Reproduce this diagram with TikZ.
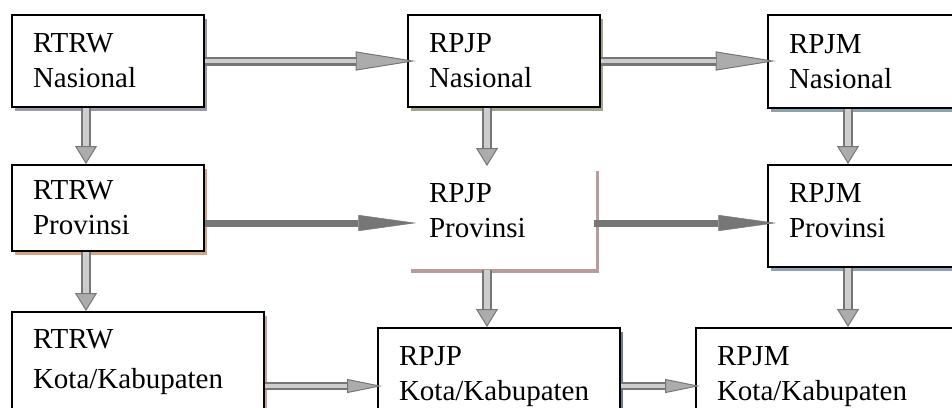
\documentclass[tikz,border=0pt]{standalone}
\usepackage{fontspec}
\setmainfont{Liberation Serif}
\usetikzlibrary{arrows.meta,calc,shadows}
\definecolor{shTN}{RGB}{156,152,170}
\definecolor{shPN}{RGB}{164,164,140}
\definecolor{shMN}{RGB}{140,162,172}
\definecolor{shTP}{RGB}{210,164,132}
\definecolor{shPP}{RGB}{184,156,156}
\definecolor{shMP}{RGB}{144,160,184}
\definecolor{shTK}{RGB}{200,160,160}
\definecolor{shPK}{RGB}{108,124,140}
\definecolor{pipe}{RGB}{118,118,118}
\definecolor{pipein}{RGB}{205,205,205}
\definecolor{pipetip}{RGB}{172,172,172}
\tikzset{
  plan/.style={draw=black,line width=1.5pt,fill=white,anchor=north west,align=left,
    inner xsep=15.75pt,inner ysep=0pt,font=\fontsize{21.75pt}{26.25pt}\selectfont,
    general shadow={fill=#1,shadow xshift=2.25pt,shadow yshift=-3pt}},
  hh/.style={line width=6.75pt,draw=pipe,shorten >=-6.5pt,
    -{Triangle[length=45pt,width=14.25pt,line width=0.75pt,fill=pipetip]},
    postaction={draw=pipein,line width=3.5pt,arrows=-,shorten >=38.5pt}},
  vh/.style={line width=7.5pt,draw=pipe,
    -{Triangle[length=13.5pt,width=16.5pt,line width=0.75pt,fill=pipetip]},
    postaction={draw=pipein,line width=4pt,arrows=-,shorten >=13.5pt}},
  kh/.style={line width=6pt,draw=pipe,shorten >=-3.75pt,
    -{Triangle[length=26.25pt,width=10.5pt,line width=0.75pt,fill=pipetip]},
    postaction={draw=pipein,line width=3pt,arrows=-,shorten >=22.5pt}},
  sh/.style={line width=5.25pt,draw=pipe,shorten >=-7pt,
    -{Triangle[length=43.5pt,width=12pt,line width=0.4pt]}},
}

\begin{document}
\begin{tikzpicture}[x=0.75pt,y=-0.75pt]
\useasboundingbox (0,0) rectangle (952,407);
\clip (0,0) rectangle (952,407);
% boxes
\node[plan=shTN,text width=112.5pt,minimum height=69pt] (tn) at (11,14) {RTRW\\Nasional};
\node[plan=shPN,text width=112.5pt,minimum height=69pt] (pn) at (407,14) {RPJP\\Nasional};
\node[plan=shMN,text width=118.5pt,minimum height=69.75pt] (mn) at (767,14) {RPJM\\Nasional};
\node[plan=shTP,text width=112.5pt,minimum height=64.5pt] (tp) at (11,164) {RTRW\\Provinsi};
\node[plan=shPP,draw=none,text width=109.5pt,minimum height=76.5pt] (pp) at (407,166)
  {RPJP\\Provinsi\rule[-10.5pt]{0pt}{10.5pt}};
\node[plan=shMP,text width=118.5pt,minimum height=76.5pt] (mp) at (767,164)
  {RPJM\\Provinsi\rule[-7.5pt]{0pt}{7.5pt}};
\node[plan=shTK,text width=157.5pt,minimum height=75.75pt] (tk) at (11,311) {RTRW\\[3.75pt]Kota/Kabupaten};
\node[plan=shPK,text width=150pt,minimum height=73.5pt] (pk) at (377,327) {RPJP\\Kota/Kabupaten};
\node[plan=white,text width=171pt,minimum height=73.5pt] (mk) at (695,327) {RPJM\\Kota/Kabupaten};
% arrows
\coordinate (c1) at ($(tn.south west)+(75,0)$);
\coordinate (c2) at ($(pn.south west)+(80,0)$);
\coordinate (c3) at ($(mn.south west)+(81,0)$);
\coordinate (r2) at ($(tp.east)+(0,15)$);
\coordinate (r3) at ($(tk.east)+(0,23.5)$);
\foreach \c/\a/\b in {c1/tn/tp,c1/tp/tk,c2/pn/pp,c2/pp/pk,c3/mn/mp,c3/mp/mk}{
  \draw[vh] (\c |- \a.south) -- (\c |- \b.north);}
\draw[hh] (tn.east) -- (tn.east -| pn.west);
\draw[hh] (pn.east) -- (pn.east -| mn.west);
\draw[sh] (r2) -- (r2 -| pp.west);
\draw[sh,shorten <=-2pt] (r2 -| pp.east) -- (r2 -| mp.west);
\draw[kh] (r3) -- (r3 -| pk.west);
\draw[kh] (r3 -| pk.east) -- (r3 -| mk.west);
\end{tikzpicture}
\end{document}
